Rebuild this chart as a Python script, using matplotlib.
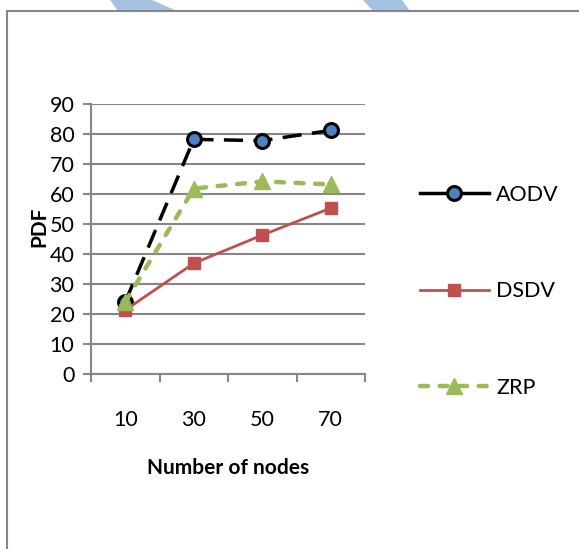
import matplotlib

matplotlib.use("Agg")
import matplotlib.pyplot as plt
from matplotlib.lines import Line2D
from matplotlib.patches import Polygon

# --------------------------------------------------------------------------- #
# Data
# --------------------------------------------------------------------------- #
nodes = ["10", "30", "50", "70"]
aodv = [24, 78.2, 77.8, 81.2]
dsdv = [21.3, 36.9, 46.3, 55.3]
zrp = [24, 61.8, 64.2, 63.2]
y_ticks = [0, 10, 20, 30, 40, 50, 60, 70, 80, 90]

GRID = "#868686"
RED = "#C0504D"
GREEN = "#9BBB59"
BLUE = "#4F81BD"

W, H, DPI = 579, 549, 100
plt.rcParams["font.family"] = ["Lato", "DejaVu Sans"]

fig = plt.figure(figsize=(W / DPI, H / DPI), dpi=DPI)


def fx(px):
    return px / W


def fy(py):
    return 1 - py / H


# watermark scraps along the top edge and the outer frame
for pts in (
    [(110, 0), (152, 0), (177, 11), (118, 11)],
    [(363, 0), (402, 0), (410, 11), (373, 11)],
):
    fig.add_artist(Polygon([(fx(x), fy(y)) for x, y in pts], closed=True,
                           facecolor="#A7C1E3", edgecolor="none"))
fig.add_artist(Line2D([fx(7), fx(7)], [fy(11), 0], color=GRID, lw=1.5))
fig.add_artist(Line2D([fx(7), 1], [fy(11), fy(11)], color=GRID, lw=1.5))

ax = fig.add_axes((fx(91), fy(374), fx(365) - fx(91), fy(104) - fy(374)))
x = range(len(nodes))

aodv_style = dict(color="black", lw=2.5, marker="o", ms=10, mfc=BLUE, mec="black", mew=2.2)
dsdv_style = dict(color=RED, lw=2, marker="s", ms=8, mfc=RED, mec=RED)
zrp_style = dict(color=GREEN, lw=3.2, dashes=(1.8, 2.6), dash_capstyle="round",
                 marker="^", ms=11, mfc=GREEN, mec=GREEN)

ax.plot(x, aodv, dashes=(5.5, 3), zorder=3, **aodv_style)
ax.plot(x, dsdv, zorder=3, **dsdv_style)
ax.plot(x, zrp, zorder=4, **zrp_style)

ax.set_xlim(-0.5, len(nodes) - 0.5)
ax.set_ylim(0, 90)
ax.set_yticks(y_ticks)
ax.set_xticks([i - 0.5 for i in range(len(nodes) + 1)])
ax.set_xticklabels([])
ax.set_xticks(list(x), minor=True)
ax.set_xticklabels(nodes, minor=True)
ax.tick_params(axis="x", which="major", length=6, width=1.5, color=GRID, direction="out")
ax.tick_params(axis="x", which="minor", length=0, pad=26, labelsize=15.5)
ax.tick_params(axis="y", length=6, width=1.5, color=GRID, labelsize=15.5, pad=6)

ax.grid(axis="y", color=GRID, lw=1.5)
ax.set_axisbelow(True)
for side in ("top", "right"):
    ax.spines[side].set_visible(False)
for side in ("left", "bottom"):
    ax.spines[side].set_color(GRID)
    ax.spines[side].set_linewidth(1.5)

ax.set_xlabel("Number of nodes", fontsize=15, fontweight="bold", labelpad=20)
fig.text(fx(39), fy(227), "PDF", rotation=90, ha="center", va="center",
         fontsize=15, fontweight="bold")

handles = [
    Line2D([], [], **aodv_style),
    Line2D([], [], **dsdv_style),
    Line2D([], [], **zrp_style),
]
fig.legend(handles, ["AODV", "DSDV", "ZRP"], loc="upper left",
           bbox_to_anchor=(fx(420), fy(185)), frameon=False, fontsize=15.5,
           handlelength=3.2, handletextpad=0.35, labelspacing=3.55,
           borderpad=0, borderaxespad=0)

fig.savefig("out.png", dpi=DPI)
